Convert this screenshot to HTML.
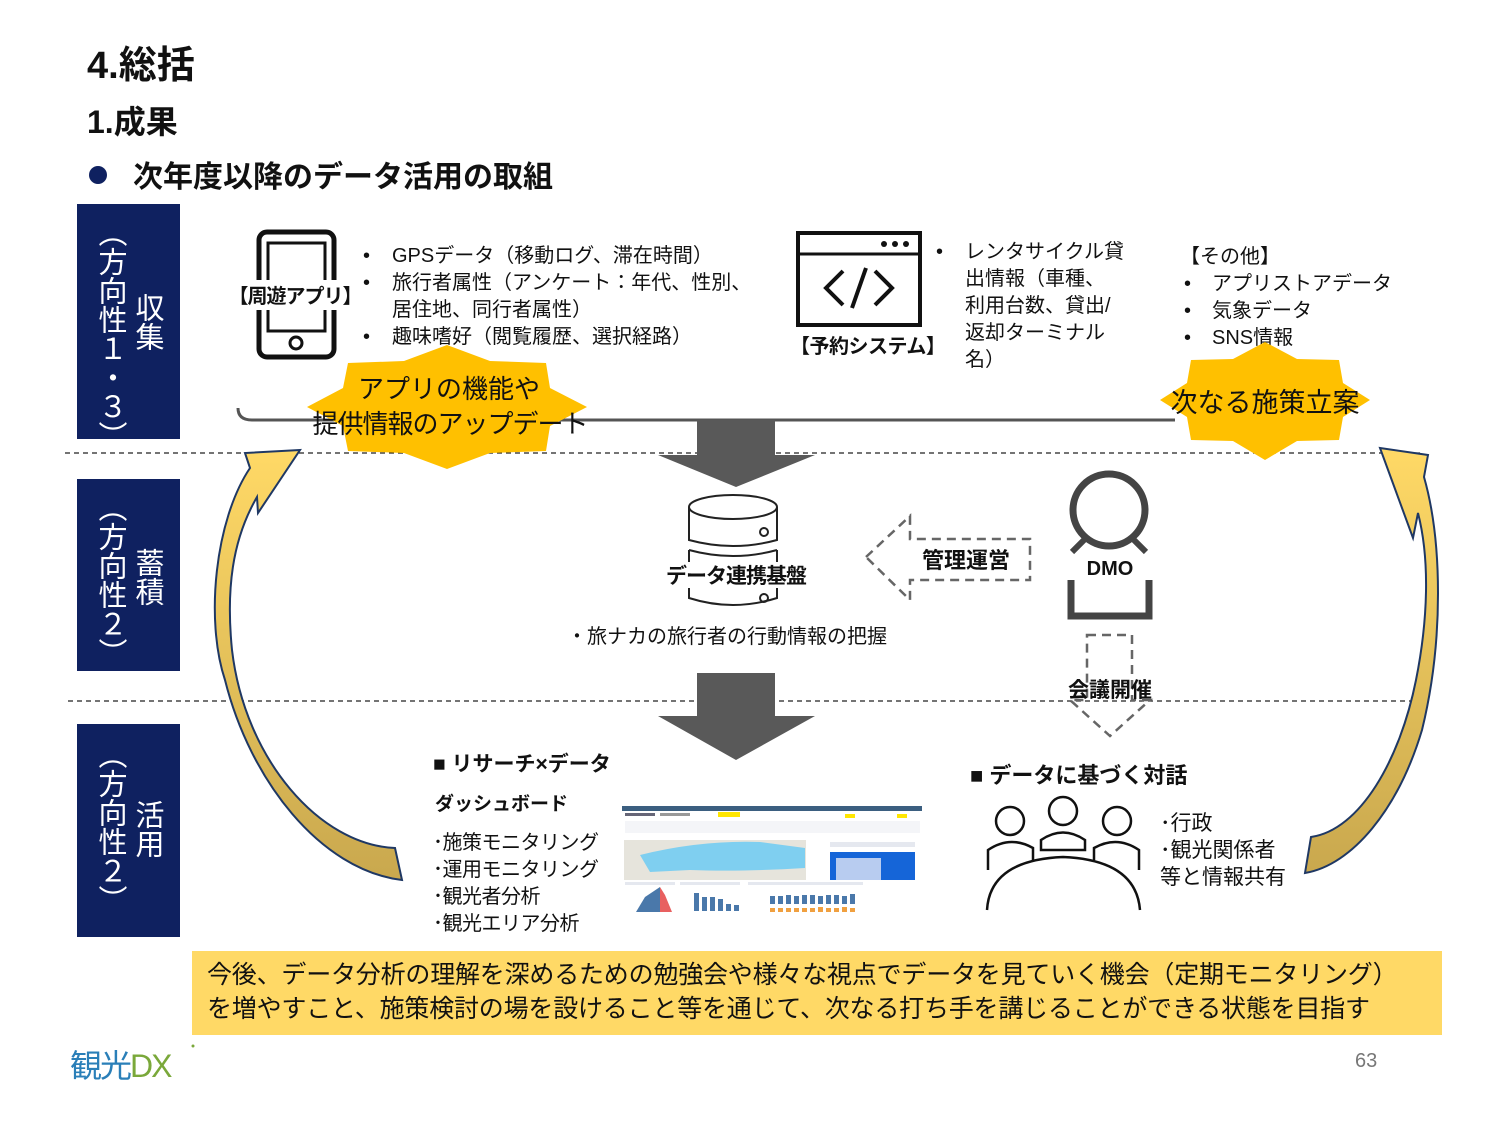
<!DOCTYPE html>
<html><head><meta charset="utf-8"><style>
body{margin:0;background:#fff}
svg{display:block}
text{font-family:"Liberation Sans","Noto Sans CJK JP",sans-serif;fill:#111}
.b{font-weight:bold}
</style></head><body>
<svg width="1500" height="1125" viewBox="0 0 1500 1125" xmlns="http://www.w3.org/2000/svg">
<defs>
<linearGradient id="ga" x1="0" y1="0" x2="0" y2="1"><stop offset="0" stop-color="#FFD966"/><stop offset="1" stop-color="#C9A84E"/></linearGradient>
</defs>
<text x="87" y="78" font-size="38" class="b">4.総括</text>
<text x="87" y="133" font-size="32" class="b">1.成果</text>
<circle cx="98" cy="175" r="9" fill="#0f2160"/>
<text x="133" y="187" font-size="30" class="b">次年度以降のデータ活用の取組</text>

<rect x="77" y="204" width="103" height="235" fill="#0f2160"/>
<rect x="77" y="479" width="103" height="192" fill="#0f2160"/>
<rect x="77" y="724" width="103" height="213" fill="#0f2160"/>
<text x="110" y="218" style="writing-mode:vertical-rl;fill:#fff;font-size:29px">（方向性１・３）</text>
<text x="147" y="293" style="writing-mode:vertical-rl;fill:#fff;font-size:29px">収集</text>
<text x="110" y="493" style="writing-mode:vertical-rl;fill:#fff;font-size:29px">（方向性２）</text>
<text x="147" y="548" style="writing-mode:vertical-rl;fill:#fff;font-size:29px">蓄積</text>
<text x="110" y="740" style="writing-mode:vertical-rl;fill:#fff;font-size:29px">（方向性２）</text>
<text x="147" y="800" style="writing-mode:vertical-rl;fill:#fff;font-size:29px">活用</text>

<line x1="65" y1="453" x2="1420" y2="453" stroke="#222" stroke-width="1.3" stroke-dasharray="5,4"/>
<line x1="68" y1="701" x2="1420" y2="701" stroke="#222" stroke-width="1.3" stroke-dasharray="5,4"/>

<path d="M238,408 Q238,420 252,420 L1175,420" fill="none" stroke="#555" stroke-width="3"/>

<rect x="259" y="232" width="75" height="125" rx="8" fill="none" stroke="#111" stroke-width="5"/>
<rect x="268" y="243" width="57" height="88" fill="none" stroke="#111" stroke-width="3"/>
<circle cx="296" cy="343" r="6" fill="none" stroke="#111" stroke-width="3"/>
<rect x="235" y="280" width="120" height="30" fill="#fff"/>
<text x="295" y="303" font-size="20" class="b" text-anchor="middle" letter-spacing="-1">【周遊アプリ】</text>
<g font-size="20">
<text x="363" y="262">•</text><text x="392" y="262">GPSデータ（移動ログ、滞在時間）</text>
<text x="363" y="289">•</text><text x="392" y="289">旅行者属性（アンケート：年代、性別、</text>
<text x="392" y="316">居住地、同行者属性）</text>
<text x="363" y="343">•</text><text x="392" y="343">趣味嗜好（閲覧履歴、選択経路）</text>
</g>

<rect x="798" y="233" width="122" height="92" fill="none" stroke="#111" stroke-width="4"/>
<line x1="798" y1="254" x2="920" y2="254" stroke="#111" stroke-width="3"/>
<circle cx="884" cy="244" r="3" fill="#111"/><circle cx="895" cy="244" r="3" fill="#111"/><circle cx="906" cy="244" r="3" fill="#111"/>
<path d="M843,271 L826,288 L843,305 M875,271 L892,288 L875,305 M866,268 L852,308" fill="none" stroke="#111" stroke-width="4"/>
<text x="790" y="353" font-size="20" class="b" letter-spacing="-0.5">【予約システム】</text>
<g font-size="20">
<text x="936" y="258">•</text>
<text x="965" y="258">レンタサイクル貸</text>
<text x="965" y="285">出情報（車種、</text>
<text x="965" y="312">利用台数、貸出/</text>
<text x="965" y="339">返却ターミナル</text>
<text x="965" y="366">名）</text>
<text x="1180" y="263">【その他】</text>
<text x="1184" y="290">•</text><text x="1212" y="290">アプリストアデータ</text>
<text x="1184" y="317">•</text><text x="1212" y="317">気象データ</text>
<text x="1184" y="344">•</text><text x="1212" y="344">SNS情報</text>
</g>

<polygon fill="#FFC000" points="587,407 550,426 546,451 490,453 447,469 404,453 348,451 343,426 307,407 343,388 348,363 404,361 447,345 490,361 546,363 550,388"/>
<text x="449" y="398" font-size="26" text-anchor="middle">アプリの機能や</text>
<text x="450" y="433" font-size="26" text-anchor="middle" letter-spacing="-1">提供情報のアップデート</text>
<polygon fill="#FFC000" points="1370,400 1343,417 1339,440 1297,441 1265,460 1233,441 1191,440 1187,417 1160,400 1187,383 1191,360 1233,359 1265,342 1297,359 1339,360 1343,383"/>
<text x="1265" y="412" font-size="27" text-anchor="middle">次なる施策立案</text>

<polygon fill="#595959" points="697,420 775,420 775,455 815,455 736,487 658,455 697,455"/>
<polygon fill="#595959" points="697,673 775,673 775,716 815,716 736,760 658,716 697,716"/>

<g fill="none" stroke="#222" stroke-width="2">
<ellipse cx="733" cy="507" rx="44" ry="12"/>
<path d="M689,507 L689,540 Q733,552 777,540 L777,507"/>
<path d="M689,550 Q733,562 777,550"/>
<path d="M689,550 L689,598 Q733,612 777,598 L777,550"/>
<circle cx="764" cy="532" r="4"/><circle cx="764" cy="598" r="4"/>
</g>
<rect x="665" y="562" width="142" height="26" fill="#fff"/>
<text x="736" y="583" font-size="21" class="b" text-anchor="middle" letter-spacing="-1">データ連携基盤</text>
<text x="567" y="643" font-size="20">・旅ナカの旅行者の行動情報の把握</text>

<polygon points="866,557 910,516 910,539 1030,539 1030,580 910,580 910,600" fill="#fff" stroke="#666" stroke-width="2.5" stroke-dasharray="9,6"/>
<text x="966" y="568" font-size="22" class="b" text-anchor="middle">管理運営</text>

<circle cx="1109" cy="510" r="36" fill="none" stroke="#444" stroke-width="7"/>
<path d="M1072,552 L1086,538 M1146,552 L1132,538" stroke="#444" stroke-width="6"/>
<path d="M1071,580 L1071,616 L1149,616 L1149,580" fill="none" stroke="#444" stroke-width="7"/>
<text x="1110" y="575" font-size="20" class="b" text-anchor="middle">DMO</text>

<polygon points="1087,635 1132,635 1132,700 1150,700 1110,736 1070,700 1087,700" fill="none" stroke="#666" stroke-width="2.5" stroke-dasharray="9,6"/>
<text x="1110" y="697" font-size="21" class="b" text-anchor="middle">会議開催</text>

<text x="433" y="771" font-size="21" class="b">■ リサーチ×データ</text>
<text x="435" y="810" font-size="19" class="b">ダッシュボード</text>
<g font-size="20" letter-spacing="-0.5">
<text x="433" y="849">･施策モニタリング</text>
<text x="433" y="876">･運用モニタリング</text>
<text x="433" y="903">･観光者分析</text>
<text x="433" y="930">･観光エリア分析</text>
</g>

<g>
<rect x="622" y="806" width="300" height="114" fill="#fff"/>
<rect x="622" y="806" width="300" height="5" fill="#3b5f80"/>
<rect x="625" y="813" width="30" height="3" fill="#667"/><rect x="660" y="813" width="30" height="3" fill="#999"/>
<rect x="718" y="812" width="22" height="5" fill="#ffe600"/>
<rect x="845" y="814" width="10" height="4" fill="#ffe600"/><rect x="897" y="814" width="10" height="4" fill="#ffe600"/>
<rect x="625" y="821" width="295" height="12" fill="#f4f5f8"/>
<rect x="624" y="840" width="182" height="40" fill="#e6e4dc"/>
<path d="M640,855 Q700,840 760,842 L805,848 L805,868 Q740,872 690,870 L650,872 Z" fill="#7fcff0"/>
<rect x="830" y="842" width="85" height="5" fill="#e5e8ef"/>
<rect x="830" y="852" width="85" height="28" fill="#1565d8"/>
<rect x="836" y="858" width="45" height="22" fill="#b8ccf0"/>
<rect x="625" y="882" width="50" height="3" fill="#e5e8ef"/><rect x="680" y="882" width="60" height="3" fill="#e5e8ef"/><rect x="748" y="882" width="115" height="3" fill="#e5e8ef"/>
<polygon points="648,912 655,895 660,887 665,895 672,912" fill="#e86060"/>
<polygon points="636,912 645,897 660,887 660,912" fill="#4a78aa"/>
<g fill="#4a78aa">
<rect x="694" y="893" width="5" height="18"/><rect x="702" y="897" width="5" height="14"/><rect x="710" y="897" width="5" height="14"/><rect x="718" y="899" width="5" height="12"/><rect x="726" y="904" width="5" height="7"/><rect x="734" y="905" width="5" height="6"/>
<rect x="770" y="896" width="5" height="8"/><rect x="778" y="896" width="5" height="8"/><rect x="786" y="895" width="5" height="9"/><rect x="794" y="896" width="5" height="8"/><rect x="802" y="895" width="5" height="9"/><rect x="810" y="895" width="5" height="9"/><rect x="818" y="896" width="5" height="8"/><rect x="826" y="895" width="5" height="9"/><rect x="834" y="895" width="5" height="9"/><rect x="842" y="896" width="5" height="8"/><rect x="850" y="894" width="5" height="10"/>
</g>
<g fill="#f0a040">
<rect x="770" y="908" width="5" height="4"/><rect x="778" y="908" width="5" height="4"/><rect x="786" y="908" width="5" height="4"/><rect x="794" y="908" width="5" height="4"/><rect x="802" y="908" width="5" height="4"/><rect x="810" y="908" width="5" height="4"/><rect x="818" y="907" width="5" height="5"/><rect x="826" y="908" width="5" height="4"/><rect x="834" y="908" width="5" height="4"/><rect x="842" y="907" width="5" height="5"/><rect x="850" y="908" width="5" height="4"/>
</g>
</g>

<text x="970" y="783" font-size="22" class="b">■ データに基づく対話</text>
<g fill="none" stroke="#111" stroke-width="2.5">
<circle cx="1010" cy="821" r="14"/><circle cx="1063" cy="811" r="14"/><circle cx="1117" cy="821" r="14"/>
<path d="M988,870 L988,850 Q1010,835 1033,848 L1033,860"/>
<path d="M1041,850 L1041,840 Q1063,825 1085,840 L1085,850 Z"/>
<path d="M1094,860 L1094,848 Q1117,835 1139,850 L1139,870"/>
<path d="M987,910 Q990,860 1063,857 Q1136,860 1140,910"/>
</g>
<g font-size="21">
<text x="1160" y="830">･行政</text>
<text x="1160" y="857">･観光関係者</text>
<text x="1160" y="884">等と情報共有</text>
</g>

<path d="M300,450 L245,453 L250,468 C215,520 205,620 225,680 C250,780 320,870 402,880 L395,848 C320,845 245,760 232,650 C226,590 232,540 257,497 L258,513 Z" fill="url(#ga)" stroke="#1f3864" stroke-width="2"/>
<path d="M1380,448 L1428,455 L1424,477 C1442,540 1444,640 1422,730 C1398,810 1352,865 1305,873 L1311,837 C1360,830 1400,760 1416,680 C1428,620 1430,560 1418,513 L1413,538 Z" fill="url(#ga)" stroke="#1f3864" stroke-width="2"/>

<rect x="192" y="951" width="1250" height="84" fill="#FFD966"/>
<text x="207" y="983" font-size="25" letter-spacing="-0.2">今後、データ分析の理解を深めるための勉強会や様々な視点でデータを見ていく機会（定期モニタリング）</text>
<text x="207" y="1017" font-size="25" letter-spacing="-0.2">を増やすこと、施策検討の場を設けること等を通じて、次なる打ち手を講じることができる状態を目指す</text>

<text x="1355" y="1067" font-size="20" style="fill:#777">63</text>
<text x="70" y="1077" font-size="32" style="fill:#2a7fb8" letter-spacing="-2">観光<tspan style="fill:#7aa83a">DX</tspan></text>
<circle cx="193" cy="1046" r="1.5" fill="#7aa83a"/>
</svg>
</body></html>
